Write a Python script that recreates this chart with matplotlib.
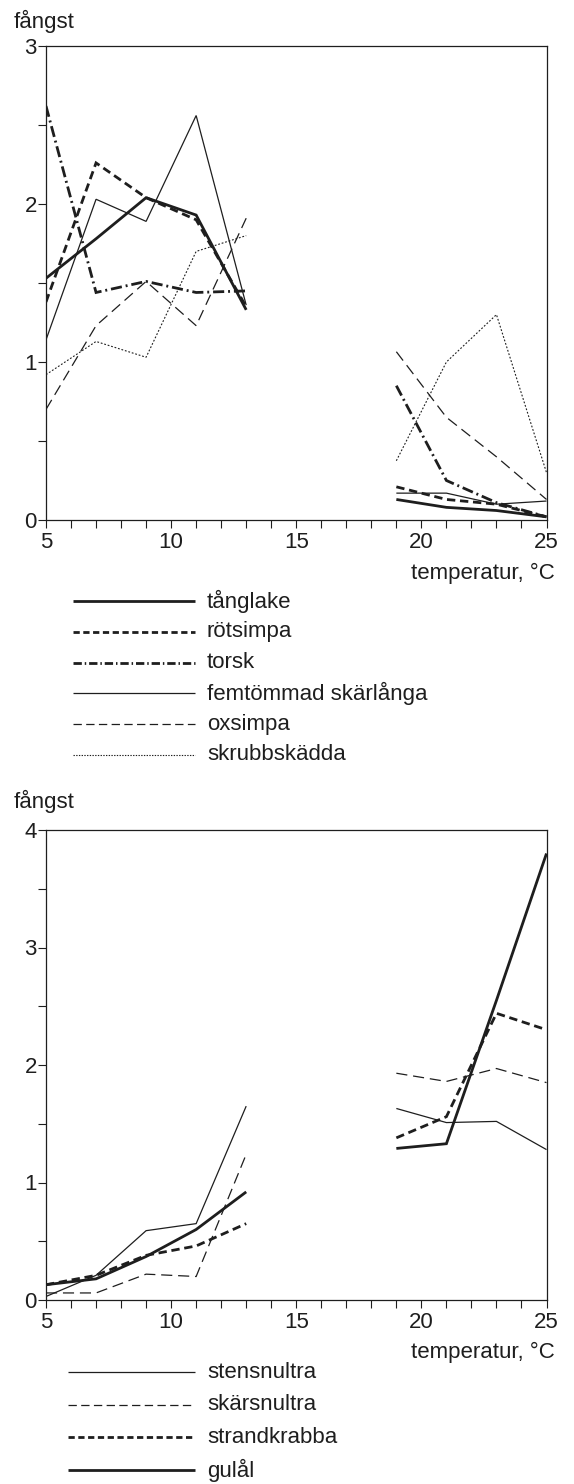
import numpy as np
import matplotlib
matplotlib.use("Agg")
import matplotlib.pyplot as plt
from matplotlib.lines import Line2D
from matplotlib.ticker import MultipleLocator

plt.rcParams['font.family'] = ['Liberation Sans', 'DejaVu Sans']
plt.rcParams['lines.scale_dashes'] = False

# temperaturer (°C), kalla och varma serier
temp_kall = [5, 7, 9, 11, 13]
temp_varm = [19, 21, 23, 25]

# fiskar
tanglake_k = [1.53, 1.78, 2.04, 1.93, 1.33]
tanglake_v = [0.13, 0.08, 0.06, 0.02]
rotsimpa_k = [1.38, 2.26, 2.04, 1.90, 1.35]
rotsimpa_v = [0.21, 0.13, 0.10, 0.02]
torsk_k = [2.62, 1.44, 1.51, 1.44, 1.45]
torsk_v = [0.85, 0.25, 0.11, 0.02]
skarlanga_k = [1.14, 2.03, 1.89, 2.56, 1.36]
skarlanga_v = [0.17, 0.17, 0.10, 0.12]
oxsimpa_k = [0.70, 1.23, 1.51, 1.23, 1.91]
oxsimpa_v = [1.065, 0.65, 0.40, 0.13]
skrubb_k = [0.92, 1.13, 1.03, 1.70, 1.80]
skrubb_v = [0.375, 1.00, 1.30, 0.30]

# kräftdjur och gulål
stensnultra_k = [0.03, 0.21, 0.59, 0.65, 1.65]
stensnultra_v = [1.63, 1.51, 1.52, 1.28]
skarsnultra_k = [0.06, 0.06, 0.22, 0.20, 1.24]
skarsnultra_v = [1.93, 1.86, 1.97, 1.85]
strandkrabba_k = [0.13, 0.21, 0.38, 0.46, 0.65]
strandkrabba_v = [1.38, 1.56, 2.44, 2.30]
gulal_k = [0.13, 0.18, 0.37, 0.60, 0.92]
gulal_v = [1.29, 1.33, 2.55, 3.80]

W, H = 574, 1484
ink = '#1e1e1e'
fs = 16

# linjestilar: (bredd, streckmönster)
tjock = 2.0
tunn = 0.9
stil = {
    'heldragen_tjock': (tjock, None),
    'streck_tjock': (tjock, (6.0, 3.4)),
    'streckpunkt': (tjock, (8.0, 2.8, 1.4, 2.8)),
    'heldragen_tunn': (tunn, None),
    'streck_tunn': (tunn, (8.0, 4.2)),
    'prickad': (0.8, (1.3, 1.3)),
}


def px(x, y):
    return x / W, 1 - y / H


def rita(ax, tk, vk, tv, vv, s):
    lw, d = stil[s]
    for t, v in ((tk, vk), (tv, vv)):
        ln, = ax.plot(t, v, color=ink, lw=lw, solid_joinstyle='miter',
                      dash_joinstyle='miter', solid_capstyle='butt')
        if d is not None:
            ln.set_dashes(d)


def axel(rect_px, ymax):
    l, t, r, b = rect_px
    x0, y0 = px(l, b)
    ax = fig.add_axes([x0, y0, (r - l) / W, (b - t) / H])
    ax.set_xlim(5, 25)
    ax.set_ylim(0, ymax)
    ax.xaxis.set_major_locator(MultipleLocator(5))
    ax.xaxis.set_minor_locator(MultipleLocator(1))
    ax.yaxis.set_major_locator(MultipleLocator(1))
    ax.yaxis.set_minor_locator(MultipleLocator(0.5))
    ax.tick_params(which='both', direction='out', length=5.5, width=0.8,
                   color=ink, top=False, right=False)
    ax.tick_params(axis='x', labelsize=fs, pad=3, labelcolor=ink)
    ax.tick_params(axis='y', labelsize=fs, pad=1, labelcolor=ink)
    for sp in ax.spines.values():
        sp.set_linewidth(0.9)
        sp.set_color(ink)
    return ax


def legend(rader, x0, x1, ytop, steg):
    for i, (namn, s) in enumerate(rader):
        y = ytop + i * steg
        lw, d = stil[s]
        a, yy = px(x0, y)
        bx, _ = px(x1, y)
        ln = Line2D([a, bx], [yy, yy], transform=fig.transFigure,
                    color=ink, lw=lw, solid_capstyle='butt')
        if d is not None:
            ln.set_dashes(tuple(v * 0.75 for v in d))
        fig.add_artist(ln)
        fig.text(*px(207, y), namn, fontsize=fs, color=ink,
                 ha='left', va='center')


fig = plt.figure(figsize=(W / 100, H / 100), dpi=100, facecolor='white')

# övre diagrammet: fiskar
ax1 = axel((46, 46, 546.5, 520), 3)
rita(ax1, temp_kall, tanglake_k, temp_varm, tanglake_v, 'heldragen_tjock')
rita(ax1, temp_kall, rotsimpa_k, temp_varm, rotsimpa_v, 'streck_tjock')
rita(ax1, temp_kall, torsk_k, temp_varm, torsk_v, 'streckpunkt')
rita(ax1, temp_kall, skarlanga_k, temp_varm, skarlanga_v, 'heldragen_tunn')
rita(ax1, temp_kall, oxsimpa_k, temp_varm, oxsimpa_v, 'streck_tunn')
rita(ax1, temp_kall, skrubb_k, temp_varm, skrubb_v, 'prickad')

fig.text(*px(14, 21), 'fångst', fontsize=fs, color=ink, ha='left', va='center')
fig.text(*px(555, 573), 'temperatur, °C', fontsize=fs, color=ink,
         ha='right', va='center')
legend([('tånglake', 'heldragen_tjock'),
        ('rötsimpa', 'streck_tjock'),
        ('torsk', 'streckpunkt'),
        ('femtömmad skärlånga', 'heldragen_tunn'),
        ('oxsimpa', 'streck_tunn'),
        ('skrubbskädda', 'prickad')], 73, 195, 601, 30.8)

# undre diagrammet: kräftdjur och gulål
ax2 = axel((46, 830, 546.5, 1300), 4)
rita(ax2, temp_kall, stensnultra_k, temp_varm, stensnultra_v, 'heldragen_tunn')
rita(ax2, temp_kall, skarsnultra_k, temp_varm, skarsnultra_v, 'streck_tunn')
rita(ax2, temp_kall, strandkrabba_k, temp_varm, strandkrabba_v, 'streck_tjock')
rita(ax2, temp_kall, gulal_k, temp_varm, gulal_v, 'heldragen_tjock')

fig.text(*px(14, 801), 'fångst', fontsize=fs, color=ink, ha='left', va='center')
fig.text(*px(555, 1352), 'temperatur, °C', fontsize=fs, color=ink,
         ha='right', va='center')
legend([('stensnultra', 'heldragen_tunn'),
        ('skärsnultra', 'streck_tunn'),
        ('strandkrabba', 'streck_tjock'),
        ('gulål', 'heldragen_tjock')], 68, 195, 1372, 32.7)

fig.savefig('out.png', dpi=100, facecolor='white')
